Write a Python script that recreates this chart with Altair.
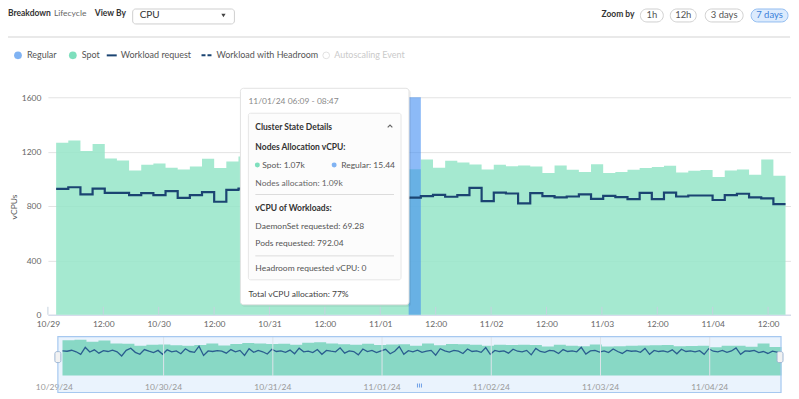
import altair as alt
import pandas as pd

FONT = "Lato"

# ---------------- data ----------------
# vCPU of Spot nodes, one value per 2h38m step starting 10/29 01:47
spot_vcpu = [1265, 1282, 1205, 1256, 1149, 1134, 1062, 1103, 1113, 1081, 1069, 1091, 1147, 1079, 1127, 1164,
             1150, 1125, 1140, 1105, 1170, 1195, 1150, 1120, 1100, 1135, 1095, 1110, 1120,
             1070,
             1142, 1081, 1132, 1120, 1105, 1069, 1103, 1093, 1098, 1091, 1042, 1098, 1067, 1050, 1108,
             1042, 1050, 1067, 1079, 1086, 1096, 1047, 1059, 1064, 1013, 1062, 1069, 1030, 1142, 1023]
# workload request (vCPU), same steps
workload_request = [926, 938, 885, 928, 897, 897, 880, 894, 880, 909, 860, 880, 902, 831, 919, 928,
                    930, 910, 925, 900, 915, 890, 905, 880, 900, 915, 895, 870, 860,
                    861,
                    873, 882, 868, 880, 933, 836, 899, 892, 819, 894, 873, 863, 870, 885, 853,
                    875, 865, 851, 897, 851, 899, 870, 877, 877, 844, 880, 890, 863, 856, 814]
# navigator: hourly workload request
nav_workload = [
    880, 870, 905, 850, 760, 1010, 840, 920, 800, 890,
    860, 910, 850, 700, 900, 980, 830, 760, 930, 870,
    820, 900, 760, 920, 850, 880, 780, 960, 860, 830,
    1050, 720, 880, 860, 890, 870, 800, 930, 850, 900,
    720, 960, 830, 900, 850, 770, 940, 860, 880, 830,
    910, 780, 980, 850, 870, 820, 930, 760, 900, 870,
    850, 990, 800, 880, 860, 740, 950, 860, 900, 820,
    880, 940, 780, 870, 1040, 760, 890, 850, 910, 830,
    870, 900, 730, 960, 880, 840, 900, 870, 790, 950,
    860, 880, 830, 1000, 760, 900, 860, 880, 800, 940,
    870, 850, 900, 740, 970, 860, 830, 900, 880, 790,
    930, 860, 880, 850, 1010, 770, 880, 900, 840, 880,
    820, 950, 860, 790, 900, 870, 880, 830, 970, 760,
    900, 860, 880, 840, 920, 780, 940, 860, 880, 850,
    890, 760, 960, 870, 850, 900, 830, 880, 990, 760,
    880, 870, 900, 820, 860, 790, 870, 840, 810]
y_ticks = [0, 400, 800, 1200, 1600]
nav_day_labels = ["10/29/24", "10/30/24", "10/31/24", "11/01/24", "11/02/24", "11/03/24", "11/04/24"]
hover_step = 29  # 11/01/24 06:09 - 08:47

first_step = pd.Timestamp("2024-10-29 01:47")
step_len = pd.Timedelta(minutes=158)


def iso(ts):
    return ts.strftime("%Y-%m-%dT%H:%M:%SZ")


def ms(ts):
    return int(pd.Timestamp(ts).timestamp() * 1000)


n = len(spot_vcpu)
edges = [first_step + i * step_len for i in range(n + 1)]
area_df = pd.DataFrame({"t": [iso(e) for e in edges], "v": spot_vcpu + [spot_vcpu[-1]]})
line_df = pd.DataFrame({"t": [iso(e) for e in edges], "v": workload_request + [workload_request[-1]]})
band_df = pd.DataFrame({"t": [iso(edges[hover_step])], "t2": [iso(edges[hover_step + 1])],
                        "v": [y_ticks[-1]], "v2": [0]})
half_days = pd.date_range("2024-10-29", periods=14, freq="12h")
tick_df = pd.DataFrame({"t": [iso(d) for d in half_days], "v": [0] * 14, "v2": [58] * 14})

nav_df = pd.DataFrame({"t": [iso(first_step + pd.Timedelta(hours=i)) for i in range(len(nav_workload))],
                       "v": nav_workload})
nav_area_df = area_df.assign(z=0)
days = pd.date_range("2024-10-29", periods=7, freq="D")
nav_lab_df = pd.DataFrame({"t": [iso(d) for d in days], "lab": nav_day_labels})
nav_grid_df = nav_lab_df.iloc[1:]

# ---------------- main chart ----------------
X = alt.X("t:T", title=None,
          scale=alt.Scale(type="utc", domain=[ms("2024-10-29 00:00"), ms("2024-11-04 16:58")], nice=False),
          axis=alt.Axis(values=[ms(d) for d in half_days],
                        labelExpr="utcFormat(datum.value, utchours(datum.value) == 0 ? '%m/%d' : '%H:%M')",
                        grid=False, ticks=False, domainColor="#ccd6eb", domainWidth=1,
                        labelColor="#666", labelFont=FONT, labelFontSize=8.5, labelPadding=5,
                        labelFlush=False, labelOverlap=False))
Y = alt.Y("v:Q", title=None, scale=alt.Scale(domain=[0, 1600], nice=False),
          axis=alt.Axis(values=y_ticks, format="d", grid=True, gridColor="#e3e3e3", domain=False,
                        ticks=False, labelColor="#666", labelFont=FONT, labelFontSize=8.5, labelPadding=7))

area = alt.Chart(area_df).mark_area(interpolate="step-after", color="#95e5c8", opacity=0.85).encode(x=X, y=Y)
ticks = alt.Chart(tick_df).mark_rule(color="#c5d2df", strokeWidth=1).encode(x=X, y=Y, y2="v2")
band = alt.Chart(band_df).mark_rect(color="#3f8cf2", opacity=0.6).encode(x=X, x2="t2", y=Y, y2="v2")
wline = alt.Chart(line_df).mark_line(interpolate="step-after", color="#1b4472", strokeWidth=2.2).encode(x=X, y=Y)
main = alt.layer(area, ticks, band, wline)

# ---------------- navigator ----------------
XN = alt.X("t:T", title=None, axis=None,
           scale=alt.Scale(type="utc", domain=[ms("2024-10-29"), ms("2024-11-05")], range=[6.5, 773], nice=False))
YN = alt.Y("v:Q", title=None, axis=None,
           scale=alt.Scale(domain=[0, 1320], range=[279, 242], nice=False, zero=False))
nav_area = alt.Chart(nav_area_df).mark_area(interpolate="step-after", color="#88d8c5").encode(
    x=XN, y=YN, y2="z")
nav_line = alt.Chart(nav_df).mark_line(color="#2a5d8f", strokeWidth=1.3).encode(x=XN, y=YN)
nav_grid = alt.Chart(nav_grid_df).mark_rule(color="#dde4ea", strokeWidth=1).encode(
    x=XN, y=alt.value(240), y2=alt.value(279.5))
nav_labels = alt.Chart(nav_lab_df).mark_text(font=FONT, fontSize=8.5, color="#999", baseline="middle").encode(
    x=XN, y=alt.value(290), text="lab:N")
nav = alt.layer(nav_area, nav_line, nav_grid, nav_labels)

# ---------------- page chrome ----------------
ONE = pd.DataFrame({"k": [0]})
OX, OY = 48, 97


def text(s, x, y, size=9, color="#555", weight="normal", align="left", angle=0):
    return alt.Chart(ONE).mark_text(text=s, align=align, baseline="middle", fontSize=size, color=color,
                                    fontWeight=weight, font=FONT, angle=angle).encode(
        x=alt.value(x - OX), y=alt.value(y - OY))


def box(x1, y1, x2, y2, fill="white", stroke=None, sw=1.0, r=0, opacity=1.0, fill_opacity=1.0):
    kw = dict(fill=fill, cornerRadius=r, opacity=opacity, fillOpacity=fill_opacity)
    if stroke:
        kw.update(stroke=stroke, strokeWidth=sw)
    return alt.Chart(ONE).mark_rect(**kw).encode(
        x=alt.value(x1 - OX), x2=alt.value(x2 - OX), y=alt.value(y1 - OY), y2=alt.value(y2 - OY))


def hline(x1, x2, y, color="#ddd", sw=1.0, dash=None):
    kw = dict(color=color, strokeWidth=sw)
    if dash:
        kw["strokeDash"] = dash
    return alt.Chart(ONE).mark_rule(**kw).encode(
        x=alt.value(x1 - OX), x2=alt.value(x2 - OX), y=alt.value(y - OY))


def vline(x, y1, y2, color="#ddd", sw=1.0):
    return alt.Chart(ONE).mark_rule(color=color, strokeWidth=sw).encode(
        x=alt.value(x - OX), y=alt.value(y1 - OY), y2=alt.value(y2 - OY))


def dot(x, y, color, size=55, filled=True):
    if filled:
        m = alt.Chart(ONE).mark_circle(color=color, size=size, opacity=1)
    else:
        m = alt.Chart(ONE).mark_point(color=color, size=size, filled=False, strokeWidth=1)
    return m.encode(x=alt.value(x - OX), y=alt.value(y - OY))


def sym(x, y, shape, color, size, filled=True, sw=1.0):
    return alt.Chart(ONE).mark_point(shape=shape, color=color, size=size, filled=filled,
                                     strokeWidth=sw, opacity=1).encode(
        x=alt.value(x - OX), y=alt.value(y - OY))


BLUE_DOT = "#80b3f3"
TEAL_DOT = "#7edfbd"

header = [
    text("Breakdown", 8, 13, 8.5, "#333", "bold"),
    text("Lifecycle", 54, 13, 8.5, "#666"),
    text("View By", 95, 13, 8.5, "#333", "bold"),
    box(133, 8.5, 235, 23.5, "white", "#cfcfcf", 1, 3),
    text("CPU", 140, 15, 10, "#333"),
    sym(224, 15, "triangle-down", "#444", 18),
    text("Zoom by", 603, 14, 8.5, "#333", "bold"),
    box(642, 8.5, 665, 21.5, "white", "#cfcfcf", 1, 6.5),
    text("1h", 653.5, 15, 9.5, "#555", align="center"),
    box(672, 8.5, 698, 21.5, "white", "#cfcfcf", 1, 6.5),
    text("12h", 685, 15, 9.5, "#555", align="center"),
    box(707, 8.5, 745, 21.5, "white", "#cfcfcf", 1, 6.5),
    text("3 days", 726, 15, 9.5, "#555", align="center"),
    box(753, 8.5, 790, 21.5, "#dcebfd", "#93bdf0", 1, 6.5),
    text("7 days", 771.5, 15, 9.5, "#3b7fd9", align="center"),
    hline(8, 792, 36.5, "#e2e2e2", 1.5),
    # legend
    dot(18, 55, BLUE_DOT, 60),
    text("Regular", 27, 55, 9, "#555"),
    dot(73, 55, TEAL_DOT, 60),
    text("Spot", 82, 55, 9, "#555"),
    hline(107, 117, 55, "#1b4472", 2),
    text("Workload request", 121, 55, 9, "#555"),
    hline(202, 213, 55, "#1b4472", 2, [4, 2]),
    text("Workload with Headroom", 217, 55, 9, "#555"),
    dot(327, 55, "#d6d6d6", 45, filled=False),
    text("Autoscaling Event", 335, 55, 9, "#cacaca"),
    # y title
    text("vCPUs", 14, 207, 8.5, "#555", align="center", angle=270),
]

tooltip = [
    box(242, 89.5, 412, 307, "#000", opacity=0.06, r=3),
    box(241, 88, 410, 305, "white", "#e2e2e2", 1, 3),
    text("11/01/24 06:09 - 08:47", 249, 101, 8.5, "#8a8a8a"),
    box(249, 113, 402, 280, "#fcfcfc", "#e6e6e6", 1, 2),
    text("Cluster State Details", 256, 127, 8.5, "#333", "bold"),
    sym(391, 126, "M-1,0.5L0,-0.5L1,0.5", "#666", 22, filled=False, sw=1.2),
    text("Nodes Allocation vCPU:", 256, 147, 8.5, "#333", "bold"),
    dot(258, 165, TEAL_DOT, 25),
    text("Spot: 1.07k", 263, 165, 8.5, "#555"),
    dot(335, 165, BLUE_DOT, 25),
    text("Regular: 15.44", 342, 165, 8.5, "#555"),
    text("Nodes allocation: 1.09k", 256, 183, 8.5, "#666"),
    hline(256, 395, 194.5, "#dcdcdc", 1),
    text("vCPU of Workloads:", 256, 208, 8.5, "#333", "bold"),
    text("DaemonSet requested: 69.28", 256, 226, 8.5, "#555"),
    text("Pods requested: 792.04", 256, 243.5, 8.5, "#555"),
    hline(256, 395, 256, "#dcdcdc", 1),
    text("Headroom requested vCPU: 0", 256, 268.5, 8.5, "#555"),
    text("Total vCPU allocation:  77%", 249, 294, 8.5, "#444"),
]

nav_bg = [box(58, 337, 783, 393, "#eaf3fd")]
nav_fg = [
    box(58, 337, 783, 393, "white", "#a6c8f0", 1.2, 0, fill_opacity=0),
    box(55, 352, 61, 363, "#f2f2f2", "#9fb6d3", 1, 2),
    box(779, 352, 785, 363, "#f2f2f2", "#9fb6d3", 1, 2),
    vline(418.5, 384, 388, "#6d9fe6", 1),
    vline(420.5, 384, 388, "#6d9fe6", 1),
    vline(422.5, 384, 388, "#6d9fe6", 1),
]

chart = alt.layer(*header, main, *tooltip, *nav_bg, nav, *nav_fg).resolve_scale(
    x="independent", y="independent"
).properties(
    width=745, height=218,
    autosize=alt.AutoSizeParams(type="none"),
    padding={"left": 40, "top": 89, "right": 0, "bottom": 79},
).configure_view(strokeWidth=0)

chart.save("out.html", embed_options={"renderer": "svg", "actions": False})
